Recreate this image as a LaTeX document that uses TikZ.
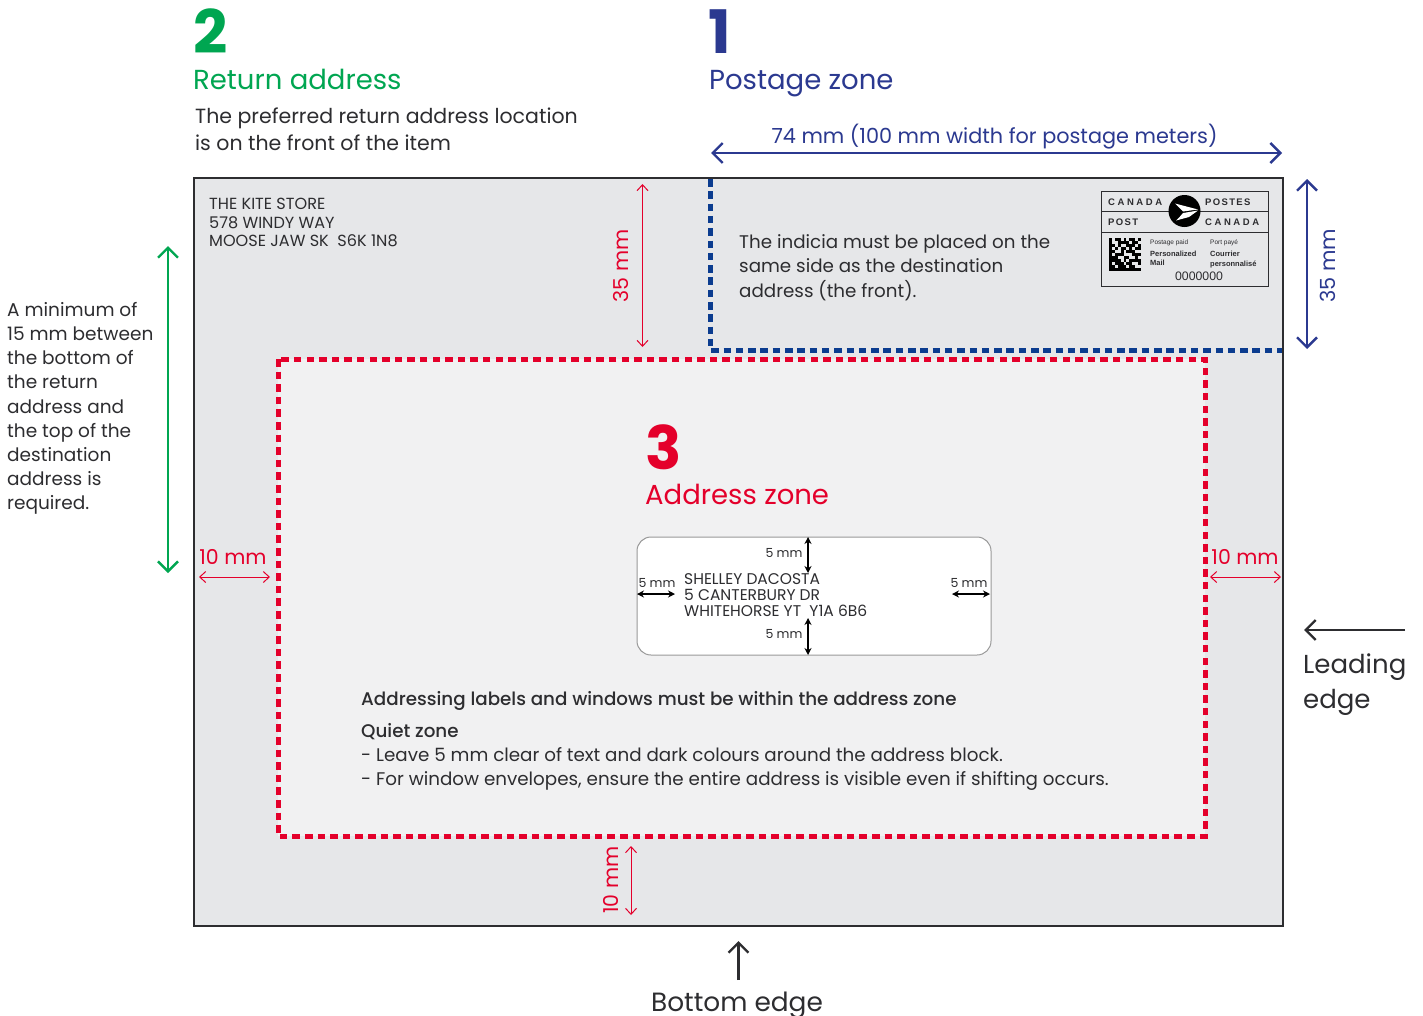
\documentclass[tikz,border=0pt]{standalone}
\usepackage{fontspec}
\setmainfont{Poppins}
\newfontfamily\medfont{Poppins Medium}
\newfontfamily\lognfont[LetterSpace=14]{Liberation Sans}
\newfontfamily\lognwide[LetterSpace=27]{Liberation Sans}
\newfontfamily\indfont{Liberation Sans}
\usetikzlibrary{arrows.meta}
\definecolor{inkdark}{HTML}{2D2D30}
\definecolor{postblue}{HTML}{2B3990}
\definecolor{dashblue}{HTML}{0B3C8F}
\definecolor{retgreen}{HTML}{00A651}
\definecolor{addrred}{HTML}{E4002B}
\definecolor{envgrey}{HTML}{E6E7E9}
\definecolor{zonegrey}{HTML}{F1F1F2}
\tikzset{
  txt/.style={anchor=base west,inner sep=0pt,text=inkdark},
  para/.style={anchor=north west,inner sep=0pt,text=inkdark,align=left},
  bignum/.style={anchor=base west,inner sep=0pt,font=\fontsize{60}{60}\selectfont\bfseries},
  zonetitle/.style={anchor=base west,inner sep=0pt,font=\fontsize{27.5}{27.5}\selectfont},
  redlabel/.style={inner sep=0pt,text=addrred,font=\fontsize{20.5}{20.5}\selectfont},
  bluelabel/.style={inner sep=0pt,text=postblue,font=\fontsize{20.8}{20.8}\selectfont},
  tinylabel/.style={inner sep=0pt,text=inkdark,font=\fontsize{12.5}{12.5}\selectfont},
  redarrow/.style={draw=addrred,line width=1pt,{Straight Barb[length=6pt,width=11pt]}-{Straight Barb[length=6pt,width=11pt]}},
  bluearrow/.style={draw=postblue,line width=2.4pt,{Straight Barb[length=10pt,width=20pt]}-{Straight Barb[length=10pt,width=20pt]}},
  greenarrow/.style={draw=retgreen,line width=2.4pt,{Straight Barb[length=10pt,width=20pt]}-{Straight Barb[length=10pt,width=20pt]}},
  edgearrow/.style={draw=inkdark,line width=2.4pt,-{Straight Barb[length=10pt,width=20pt]}},
  tinyarrow/.style={draw=black,line width=1.3pt,{Stealth[length=7pt,width=7pt]}-{Stealth[length=7pt,width=7pt]}},
  indtext/.style={anchor=base west,inner sep=0pt,text=inkdark},
}
\begin{document}
\begin{tikzpicture}[x=1pt,y=-1pt]
  \useasboundingbox[fill=white] (0,0) rectangle (1423,1015);
  % envelope and zones
  \draw[draw=inkdark,line width=2.7pt,fill=envgrey] (194,178) rectangle (1283,926);
  \draw[draw=dashblue,line width=5pt,dash pattern=on 7.5pt off 4.8pt] (710,179) -- (710,350) -- (1282,350);
  \draw[draw=addrred,fill=zonegrey,line width=5pt,dash pattern=on 7.5pt off 5.1pt] (278,359) rectangle (1205,836);
  \draw[draw=black!40,line width=1pt,fill=white,rounded corners=14pt] (637,537) rectangle (991,655);
  % headings
  \node[bignum,text=retgreen] (rnum) at (193,53) {2};
  \node[zonetitle,text=retgreen] (rtitle) at (193,89) {Return address};
  \node[para,font=\fontsize{20.5}{27}\selectfont] (rtext) at (195,108) {The preferred return address location\\is on the front of the item};
  \node[bignum,text=postblue] (pnum) at (708,53) {1};
  \node[zonetitle,text=postblue] (ptitle) at (709,89) {Postage zone};
  \node[bluelabel,anchor=base] (pwidth) at (994.5,143) {74 mm (100 mm width for postage meters)};
  \node[bignum,text=addrred] (anum) at (645,469) {3};
  \node[zonetitle,text=addrred] (atitle) at (645,504) {Address zone};
  % return address
  \node[para,font=\fontsize{16.1}{18.5}\selectfont] (raddr) at (209,198) {THE KITE STORE\\578 WINDY WAY\\MOOSE JAW SK\ \ S6K 1N8};
  % indicia note
  \node[para,font=\fontsize{18.3}{24.7}\selectfont] (inote) at (739,234) {The indicia must be placed on the\\same side as the destination\\address (the front).};
  % left note
  \node[para,font=\fontsize{18.5}{24.2}\selectfont] (lnote) at (7,302) {A minimum of\\15 mm between\\the bottom of\\the return\\address and\\the top of the\\destination\\address is\\required.};
  % address block
  \node[para,font=\fontsize{15.5}{16.2}\selectfont] (daddr) at (684,573) {SHELLEY DACOSTA\\5 CANTERBURY DR\\WHITEHORSE YT\ \ Y1A 6B6};
  % address zone text
  \node[txt,font=\medfont\fontsize{18.3}{18.3}\selectfont] (zhead) at (361,705) {Addressing labels and windows must be within the address zone};
  \node[txt,font=\medfont\fontsize{18.3}{18.3}\selectfont] (qhead) at (361,737) {Quiet zone};
  \node[txt,font=\fontsize{18.3}{18.3}\selectfont] (qone) at (361,761) {- Leave 5 mm clear of text and dark colours around the address block.};
  \node[txt,font=\fontsize{18.3}{18.3}\selectfont] (qtwo) at (361,785) {- For window envelopes, ensure the entire address is visible even if shifting occurs.};
  % edge labels
  \node[para,font=\fontsize{26}{35}\selectfont] (ledge) at (1303,654) {Leading\\edge};
  \node[txt,font=\fontsize{26.4}{26.4}\selectfont,anchor=base] (bedge) at (737,1011) {Bottom edge};
  % dimension labels
  \node[redlabel,rotate=90] (rthirtyfive) at (621,266) {35 mm};
  \node[bluelabel,rotate=90] (bthirtyfive) at (1328,266) {35 mm};
  \node[redlabel,rotate=90] (rtenb) at (611,880) {10 mm};
  \node[redlabel] (rtenl) at (233,557) {10 mm};
  \node[redlabel] (rtenr) at (1245,557) {10 mm};
  \node[tinylabel] (ftop) at (784,553) {5 mm};
  \node[tinylabel] (fleft) at (657,583) {5 mm};
  \node[tinylabel] (fright) at (969,583) {5 mm};
  \node[tinylabel] (fbot) at (784,634) {5 mm};
  % arrow ends
  \draw
    (711,153) coordinate (pa) (1282,153) coordinate (pb)
    (1307,179) coordinate (qa) (1307,349) coordinate (qb)
    (168,246) coordinate (ga) (168,573) coordinate (gb)
    (642.5,184) coordinate (ra) (642.5,347) coordinate (rb)
    (199,577) coordinate (la) (270,577) coordinate (lb)
    (1210,577) coordinate (ma) (1281,577) coordinate (mb)
    (631,846) coordinate (ba) (631,915) coordinate (bb)
    (738.5,980) coordinate (ea) (738.5,941) coordinate (eb)
    (1405,630) coordinate (fa) (1304,630) coordinate (fb)
    (808,537) coordinate (ta) (808,573) coordinate (tb)
    (637,594) coordinate (ua) (675,594) coordinate (ub)
    (952,594) coordinate (va) (990,594) coordinate (vb)
    (808,618) coordinate (wa) (808,655) coordinate (wb);
  \begin{scope}
    \draw[bluearrow] (pa) to (pb);
    \draw[bluearrow] (qa) to (qb);
    \draw[greenarrow] (ga) to (gb);
    \draw[redarrow] (ra) to (rb);
    \draw[redarrow] (la) to (lb);
    \draw[redarrow] (ma) to (mb);
    \draw[redarrow] (ba) to (bb);
    \draw[edgearrow] (ea) to (eb);
    \draw[edgearrow] (fa) to (fb);
    \draw[tinyarrow] (ta) to (tb);
    \draw[tinyarrow] (ua) to (ub);
    \draw[tinyarrow] (va) to (vb);
    \draw[tinyarrow] (wa) to (wb);
  \end{scope}
  % indicia
  \draw[draw=inkdark,line width=1pt,fill=envgrey] (1101,191) rectangle (1268,286);
  \draw[draw=inkdark,line width=1pt] (1101,211) -- (1268,211) (1101,232) -- (1268,232);
  \fill[black] (1184.5,211) circle (16);
  \fill[white] (1175,203.5) -- (1198,209.5) -- (1183,211.5) -- cycle;
  \fill[white] (1183,213) -- (1198,210.5) -- (1189,217) -- (1176,220.5) -- (1180,216.5) -- cycle;
  \node[indtext,font=\lognwide\fontsize{9.5}{9.5}\selectfont\bfseries] (ican) at (1108,205) {CANADA};
  \node[indtext,font=\lognfont\fontsize{9.5}{9.5}\selectfont\bfseries] (ipos) at (1205,205) {POSTES};
  \node[indtext,font=\lognfont\fontsize{9.5}{9.5}\selectfont\bfseries] (ipst) at (1108,225) {POST};
  \node[indtext,font=\lognwide\fontsize{9.5}{9.5}\selectfont\bfseries] (icad) at (1205,225) {CANADA};
  \node[indtext,font=\indfont\fontsize{6.5}{6.5}\selectfont] (ipaid) at (1150,244) {Postage paid};
  \node[indtext,font=\indfont\fontsize{6.5}{6.5}\selectfont] (ipaye) at (1210,244) {Port payé};
  \node[para,font=\indfont\fontsize{7.5}{9}\selectfont\bfseries] (ipers) at (1150,251) {Personalized\\Mail};
  \node[para,font=\indfont\fontsize{7.5}{9.5}\selectfont\bfseries] (icour) at (1210,251) {Courrier\\personnalisé};
  \node[indtext,font=\indfont\fontsize{12.3}{12.3}\selectfont,anchor=base] (inum) at (1199,280) {0000000};
  % data matrix
  \foreach \row [count=\yi from 0] in {
      {1,0,1,1,0,1,0,1,1,0,1},{1,0,0,1,1,1,1,0,1,1,0},{1,1,0,1,0,0,1,1,1,0,1},
      {1,0,1,0,1,1,0,1,0,1,1},{1,1,0,0,1,0,1,1,1,0,0},{1,0,1,1,1,0,0,0,1,1,1},
      {1,1,1,0,0,1,1,0,0,1,0},{1,1,1,1,0,1,0,1,1,1,1},{1,0,1,1,1,0,1,1,0,0,1},
      {1,1,0,1,1,1,0,1,1,0,0},{1,1,1,1,1,1,1,1,1,1,1}}
    \foreach \cell [count=\xi from 0] in \row {
      \ifnum\cell=1 \fill[black] (1109+2.9*\xi,238+3*\yi) rectangle ++(2.9,3); \fi
    };
\end{tikzpicture}
\end{document}
